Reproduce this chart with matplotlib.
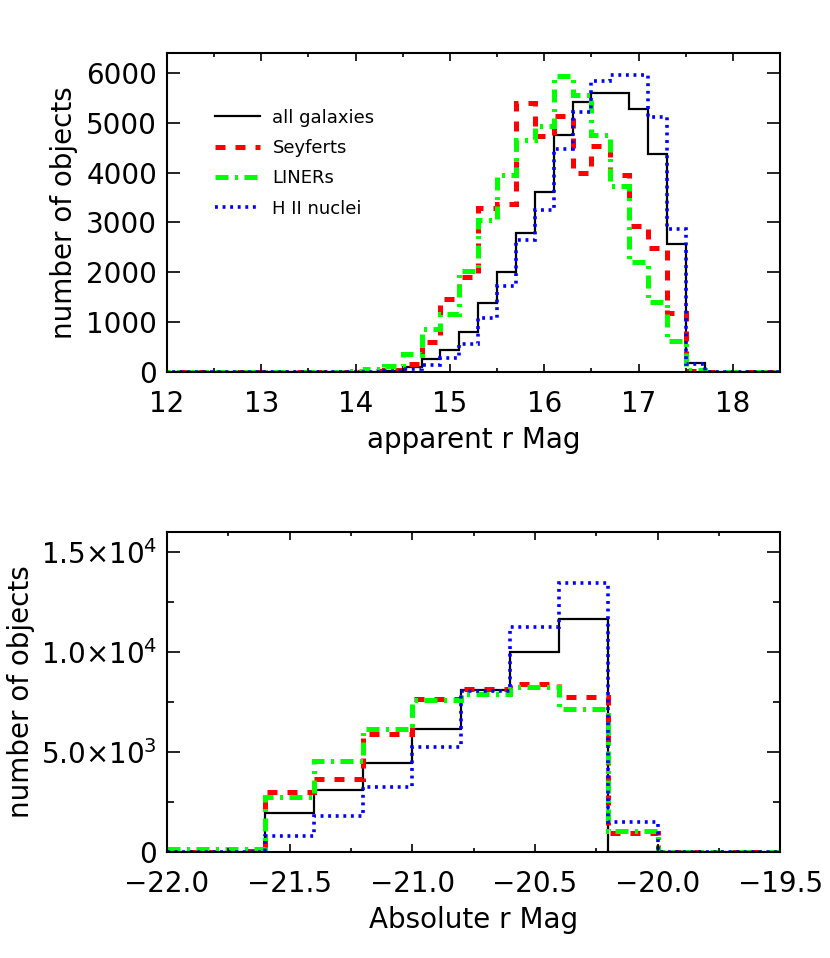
import numpy as np
import matplotlib
matplotlib.use("Agg")
import matplotlib.pyplot as plt
from matplotlib.ticker import MultipleLocator, FixedLocator, FixedFormatter

# apparent r magnitude histogram, bin edges every 0.2 mag
app_edges = np.round(np.arange(11.9, 18.51, 0.2), 2)
app_all = [0, 0, 0, 0, 0, 0, 0, 0, 0, 0, 0, 0, 20, 106, 261, 442, 810,
           1379, 2014, 2791, 3601, 4759, 5408, 5596, 5596, 5275, 4377,
           2577, 180, 0, 0, 0, 0]
app_sey = [0, 0, 0, 0, 0, 0, 0, 0, 0, 0, 0, 10, 40, 170, 609, 1460, 1914,
           3287, 3373, 5395, 4725, 5127, 4002, 4538, 3956, 2938, 2484,
           1191, 20, 0, 0, 0, 0]
app_lin = [0, 0, 0, 0, 0, 0, 0, 0, 0, 0, 10, 50, 120, 361, 857, 1165, 2028,
           3052, 3956, 4645, 4940, 5930, 5562, 4759, 3735, 2203, 1412,
           622, 30, 0, 0, 0, 0]
app_hii = [0, 0, 0, 0, 0, 0, 0, 0, 0, 0, 0, 0, 10, 54, 141, 288, 562,
           1078, 1727, 2651, 3253, 4471, 5214, 5830, 5964, 5964, 5114,
           2871, 161, 0, 0, 0, 0]

# absolute r magnitude histogram
abs_edges = np.round(np.arange(-22.0, -19.39, 0.2), 2)
abs_all = [0, 0, 1933, 3100, 4467, 6133, 8100, 9983, 11650, 0, 0, 0, 0]
abs_sey = [0, 30, 2983, 3633, 5900, 7633, 8150, 8383, 7767, 967, 0, 0, 0]
abs_lin = [133, 133, 2733, 4567, 6133, 7600, 7883, 8267, 7150, 1067, 0, 0, 0]
abs_hii = [0, 0, 817, 1817, 3267, 5267, 8067, 11233, 13433, 1517, 0, 0, 0]

labels = ["all galaxies", "Seyferts", "LINERs", "H II nuclei"]
styles = [
    dict(color="black", lw=1.6, ls="-"),
    dict(color="#ff0000", lw=3.6, ls=(0, (2.0, 2.0))),
    dict(color="#00ff00", lw=3.6, ls=(0, (2.6, 1.3, 0.6, 1.3))),
    dict(color="#0000ff", lw=2.6, ls=(0, (0.8, 1.3))),
]

plt.rcParams["font.family"] = "DejaVu Sans"
plt.rcParams["font.size"] = 20

fig = plt.figure(figsize=(8.3, 9.58), dpi=100)
ax1 = fig.add_axes([0.201, 0.6117, 0.739, 0.333])
ax2 = fig.add_axes([0.201, 0.1106, 0.739, 0.334])


def style_axes(ax):
    for s in ax.spines.values():
        s.set_linewidth(1.5)
    ax.tick_params(which="both", direction="in", top=True, right=True,
                   width=1.2, labelsize=20)
    ax.tick_params(axis="x", which="major", length=5.5, pad=13)
    ax.tick_params(axis="x", which="minor", length=3)
    ax.tick_params(axis="y", which="major", length=9.5, pad=7)
    ax.tick_params(axis="y", which="minor", length=5)


# top panel
for vals, st, lab in zip([app_all, app_sey, app_lin, app_hii], styles, labels):
    ax1.stairs(vals, app_edges, baseline=None, label=lab, **st)
ax1.set_xlim(12, 18.5)
ax1.set_ylim(0, 6400)
ax1.xaxis.set_major_locator(MultipleLocator(1))
ax1.xaxis.set_minor_locator(MultipleLocator(0.5))
ax1.yaxis.set_major_locator(MultipleLocator(1000))
style_axes(ax1)
ax1.set_xlabel("apparent r Mag", labelpad=6)
ax1.set_ylabel("number of objects", labelpad=6)
ax1.legend(loc="upper left", bbox_to_anchor=(0.078, 0.825), frameon=False,
           fontsize=13, handlelength=2.5, handletextpad=0.7,
           labelspacing=0.68, borderpad=0, borderaxespad=0)

# bottom panel
for vals, st in zip([abs_all, abs_sey, abs_lin, abs_hii], styles):
    ax2.stairs(vals, abs_edges, baseline=None, **st)
ax2.set_xlim(-22.0, -19.5)
ax2.set_ylim(0, 16000)
ax2.xaxis.set_major_locator(MultipleLocator(0.5))
ax2.xaxis.set_minor_locator(MultipleLocator(0.25))
ax2.xaxis.set_major_formatter(plt.FuncFormatter(lambda v, p: f"{v:.1f}".replace("-", "\u2212")))
ax2.yaxis.set_major_locator(FixedLocator([0, 5000, 10000, 15000]))
ax2.yaxis.set_major_formatter(FixedFormatter(
    ["0", "5.0\u00d710$^{3}$", "1.0\u00d710$^{4}$", "1.5\u00d710$^{4}$"]))
ax2.yaxis.set_minor_locator(MultipleLocator(2500))
style_axes(ax2)
ax2.set_xlabel("Absolute r Mag", labelpad=6)
ax2.set_ylabel("number of objects", labelpad=4)

fig.savefig("out.png", dpi=100)
